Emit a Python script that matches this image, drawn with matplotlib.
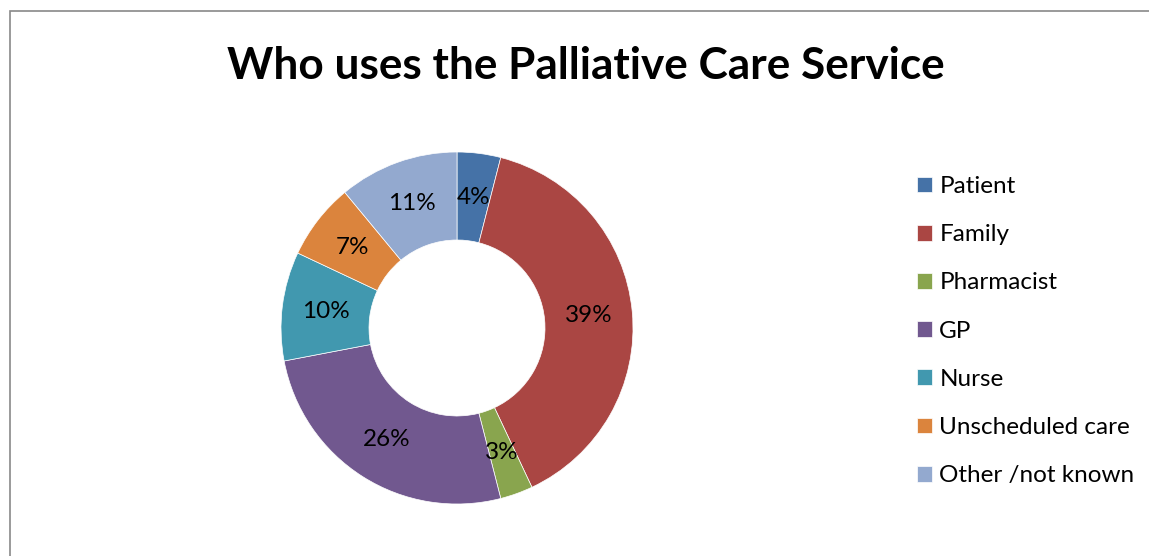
import matplotlib
matplotlib.use("Agg")
import matplotlib.pyplot as plt
from matplotlib.patches import Rectangle

plt.rcParams['font.family'] = ['Lato', 'DejaVu Sans']

# data
categories = ['Patient', 'Family', 'Pharmacist', 'GP', 'Nurse',
              'Unscheduled care', 'Other /not known']
shares = [4, 39, 3, 26, 10, 7, 11]
colours = ['#4572A7', '#AA4643', '#89A54E', '#71588F', '#4198AF',
           '#DB843D', '#93A9CF']
title = 'Who uses the Palliative Care Service'

W, H = 1149, 556
fig = plt.figure(figsize=(W / 100, H / 100), dpi=100)

# chart frame (runs off the right and bottom edge)
fig.patches.append(Rectangle((9.5 / W, -0.1), 1.2, (H - 10.5) / H + 0.1,
                             transform=fig.transFigure, fill=False,
                             edgecolor='#898989', linewidth=1.2))

# donut centred at (457, 328) px, outer radius 176 px
cx, cy, r = 457, 328, 176
ax = fig.add_axes([(cx - r) / W, (H - cy - r) / H, 2 * r / W, 2 * r / H])
wedges, texts, pcts = ax.pie(shares, colors=colours, startangle=90,
                             counterclock=False, radius=1,
                             autopct='%.0f%%', pctdistance=0.75,
                             wedgeprops=dict(width=0.5, edgecolor='white',
                                             linewidth=0.5),
                             textprops=dict(fontsize=17.5, color='black'))
ax.set_xlim(-1, 1)
ax.set_ylim(-1, 1)
ax.set_aspect('equal')
ax.axis('off')

fig.text(586 / W, 1 - 66 / H, title, ha='center', va='center',
         fontsize=31.8, fontweight='bold')

fig.legend(wedges, categories, loc='upper left',
           bbox_to_anchor=(917 / W, 1 - 176 / H), frameon=False,
           fontsize=17.5, handlelength=0.62, handleheight=0.62,
           handletextpad=0.3, labelspacing=1.12, borderpad=0,
           borderaxespad=0)

fig.savefig('out.png', dpi=100)
